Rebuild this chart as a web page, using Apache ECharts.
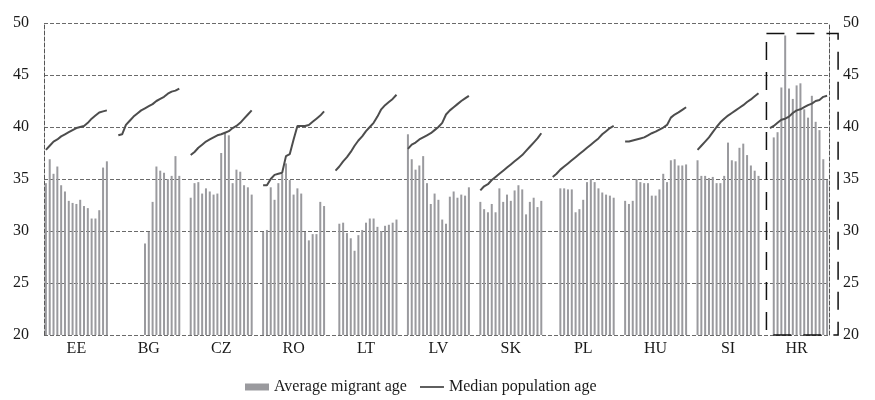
<!DOCTYPE html>
<html><head><meta charset="utf-8">
<script src="https://cdn.jsdelivr.net/npm/echarts@6/dist/echarts.min.js"></script>
<style>html,body{margin:0;padding:0;background:#fff}#c{width:875px;height:400px}</style>
</head><body><div id="c"></div>
<script>
const countries = ['EE','BG','CZ','RO','LT','LV','SK','PL','HU','SI','HR'];
const yMin = 20, yMax = 50, yStep = 5;
const highlightCountry = 'HR';
const highlightTop = 49;

// Average migrant age (one value per year; null = no data)
const migrantEE = [34.6, 36.9, 35.5, 36.2, 34.4, 33.8, 32.9, 32.7, 32.6, 33.0, 32.4, 32.2, 31.2, 31.2, 32.0, 36.1, 36.7];
const migrantBG = [null, null, null, null, null, null, null, 28.8, 29.9, 32.8, 36.2, 35.8, 35.6, 35.0, 35.3, 37.2, 35.3];
const migrantCZ = [33.2, 34.6, 34.7, 33.6, 34.1, 33.8, 33.5, 33.6, 37.5, 39.5, 39.2, 34.6, 35.9, 35.7, 34.4, 34.2, 33.5];
const migrantRO = [29.9, 30.1, 34.2, 33.0, 34.6, 35.5, 36.5, 34.9, 33.5, 34.1, 33.6, 29.9, 29.1, 29.7, 29.7, 32.8, 32.4];
const migrantLT = [null, 30.7, 30.8, 29.8, 29.3, 28.1, 29.6, 30.1, 30.8, 31.2, 31.2, 30.4, 30.0, 30.5, 30.6, 30.8, 31.1];
const migrantLV = [39.3, 36.9, 35.9, 36.3, 37.2, 34.6, 32.6, 33.6, 33.0, 31.1, 30.7, 33.3, 33.8, 33.2, 33.5, 33.4, 34.2];
const migrantSK = [32.8, 32.1, 31.8, 32.6, 31.8, 34.1, 32.8, 33.5, 32.9, 33.9, 34.4, 34.0, 31.6, 32.8, 33.2, 32.3, 32.9];
const migrantPL = [null, null, 34.1, 34.1, 34.0, 34.0, 31.8, 32.1, 33.0, 34.7, 35.0, 34.7, 34.1, 33.7, 33.5, 33.4, 33.2];
const migrantHU = [32.9, 32.6, 32.9, 35.0, 34.7, 34.6, 34.6, 33.4, 33.4, 34.0, 35.5, 34.7, 36.8, 36.9, 36.3, 36.3, 36.4];
const migrantSI = [36.8, 35.3, 35.3, 35.1, 35.2, 34.6, 34.6, 35.3, 38.5, 36.8, 36.7, 38.0, 38.4, 37.3, 36.3, 35.8, 35.3];
const migrantHR = [null, 39.0, 39.5, 43.8, 48.8, 43.7, 42.7, 44.0, 44.2, 41.7, 40.9, 43.0, 40.5, 39.7, 36.9, 34.9];

// Median population age
const medianEE = [37.8, 38.2, 38.6, 38.8, 39.1, 39.3, 39.5, 39.7, 39.9, 40.0, 40.1, 40.4, 40.8, 41.1, 41.4, 41.5, 41.6];
const medianBG = [39.2, 39.3, 40.2, 40.6, 41.0, 41.3, 41.6, 41.8, 42.0, 42.2, 42.5, 42.7, 42.9, 43.2, 43.4, 43.5, 43.7];
const medianCZ = [37.3, 37.6, 38.0, 38.3, 38.6, 38.8, 39.0, 39.2, 39.3, 39.45, 39.6, 39.9, 40.1, 40.4, 40.8, 41.2, 41.6];
const medianRO = [34.4, 34.4, 35.0, 35.4, 35.5, 35.6, 37.2, 37.4, 38.8, 40.1, 40.1, 40.1, 40.2, 40.5, 40.8, 41.1, 41.5];
const medianLT = [35.8, 36.2, 36.7, 37.1, 37.6, 38.2, 38.7, 39.1, 39.6, 40.0, 40.4, 41.0, 41.7, 42.1, 42.4, 42.7, 43.1];
const medianLV = [37.9, 38.3, 38.5, 38.8, 39.0, 39.2, 39.4, 39.7, 40.0, 40.4, 41.2, 41.6, 41.9, 42.2, 42.5, 42.75, 43.0];
const medianSK = [33.9, 34.3, 34.5, 34.9, 35.2, 35.5, 35.8, 36.1, 36.4, 36.7, 37.0, 37.3, 37.7, 38.1, 38.5, 38.9, 39.4];
const medianPL = [35.2, 35.5, 35.9, 36.2, 36.5, 36.8, 37.1, 37.4, 37.7, 38.0, 38.3, 38.6, 38.9, 39.3, 39.6, 39.9, 40.1];
const medianHU = [38.6, 38.6, 38.7, 38.8, 38.9, 39.0, 39.2, 39.4, 39.55, 39.75, 39.95, 40.2, 40.9, 41.2, 41.4, 41.65, 41.9];
const medianSI = [37.8, 38.2, 38.6, 39.0, 39.5, 40.0, 40.45, 40.8, 41.1, 41.35, 41.6, 41.85, 42.1, 42.4, 42.65, 42.95, 43.25];
const medianHR = [39.9, 40.1, 40.4, 40.7, 40.8, 41.0, 41.35, 41.6, 41.7, 41.9, 42.1, 42.25, 42.5, 42.6, 42.9, 43.0];

const migrantByCountry = [migrantEE, migrantBG, migrantCZ, migrantRO, migrantLT, migrantLV, migrantSK, migrantPL, migrantHU, migrantSI, migrantHR];
const medianByCountry  = [medianEE, medianBG, medianCZ, medianRO, medianLT, medianLV, medianSK, medianPL, medianHU, medianSI, medianHR];

const GAP_SLOTS = 2;
const cats = [], barData = [], lineData = [], labelSlots = new Set();
const groupStart = {};
countries.forEach((c, g) => {
  const n = medianByCountry[g].length;
  groupStart[c] = cats.length;
  labelSlots.add(cats.length + Math.floor((n - 1) / 2));
  for (let i = 0; i < n; i++) {
    cats.push(c + ' ' + i);
    const v = migrantByCountry[g][i];
    barData.push(v === undefined ? null : v);
    lineData.push(medianByCountry[g][i]);
  }
  if (g < countries.length - 1) {
    for (let k = 0; k < GAP_SLOTS; k++) { cats.push('gap' + g + '_' + k); barData.push(null); lineData.push(null); }
  }
});

const FONT = "'Liberation Serif','Times New Roman',serif";
const TXT = '#1a1a1a';
const LINE_COLOR = '#4d4d4d';
const chart = echarts.init(document.getElementById('c'), null, {renderer: 'canvas'});
const yAxisCommon = {
  type: 'value', min: yMin, max: yMax, interval: yStep,
  axisLine: {show: true, lineStyle: {type: 'dashed', color: '#555', width: 1}},
  axisTick: {show: false},
  axisLabel: {fontFamily: FONT, fontSize: 16, color: TXT}
};
chart.setOption({
  animation: false,
  backgroundColor: '#fff',
  grid: {left: 44, right: 46, top: 23, bottom: 65, containLabel: false},
  legend: {
    left: 240, top: 374, itemGap: 13, itemWidth: 24, itemHeight: 7,
    symbolKeepAspect: true,
    textStyle: {fontFamily: FONT, fontSize: 16, color: TXT},
    data: [
      {name: 'Average migrant age', icon: 'rect'},
      {name: 'Median population age', icon: 'path://M0,0 L24,0 L24,1.8 L0,1.8 Z', itemStyle: {color: LINE_COLOR}}
    ]
  },
  xAxis: {
    type: 'category', data: cats, boundaryGap: true,
    axisLine: {show: false}, axisTick: {show: false}, splitLine: {show: false},
    axisLabel: {
      interval: (idx) => labelSlots.has(idx),
      formatter: (v) => v.split(' ')[0],
      fontFamily: FONT, fontSize: 16, color: TXT, margin: 6
    }
  },
  yAxis: [
    Object.assign({}, yAxisCommon, {position: 'left',
      axisLabel: Object.assign({}, yAxisCommon.axisLabel, {margin: 15}),
      splitLine: {show: true, lineStyle: {type: 'dashed', color: '#6a6a6a', width: 1}}}),
    Object.assign({}, yAxisCommon, {position: 'right',
      axisLabel: Object.assign({}, yAxisCommon.axisLabel, {margin: 14}),
      splitLine: {show: false}})
  ],
  series: [
    {name: 'Average migrant age', type: 'bar', data: barData, barWidth: 2,
     itemStyle: {color: '#9a9a9e'}, z: 2},
    {name: 'Median population age', type: 'line', data: lineData, symbol: 'none',
     connectNulls: false, lineStyle: {color: LINE_COLOR, width: 2}, itemStyle: {color: LINE_COLOR}, z: 3}
  ]
});

// Dashed highlight box around the HR group
const hs = groupStart[highlightCountry];
const he = hs + medianHR.length - 1;
const pTL = chart.convertToPixel({gridIndex: 0}, [cats[hs], highlightTop]);
const pBR = chart.convertToPixel({gridIndex: 0}, [cats[he], yMin]);
chart.setOption({
  graphic: [{
    type: 'rect', z: 10, silent: true,
    shape: {x: pTL[0] - 3.5, y: pTL[1], width: (pBR[0] + 11) - (pTL[0] - 3.5), height: pBR[1] - pTL[1]},
    style: {fill: null, stroke: '#111', lineWidth: 1.5, lineDash: [18, 12]}
  }]
});
</script>
</body></html>
